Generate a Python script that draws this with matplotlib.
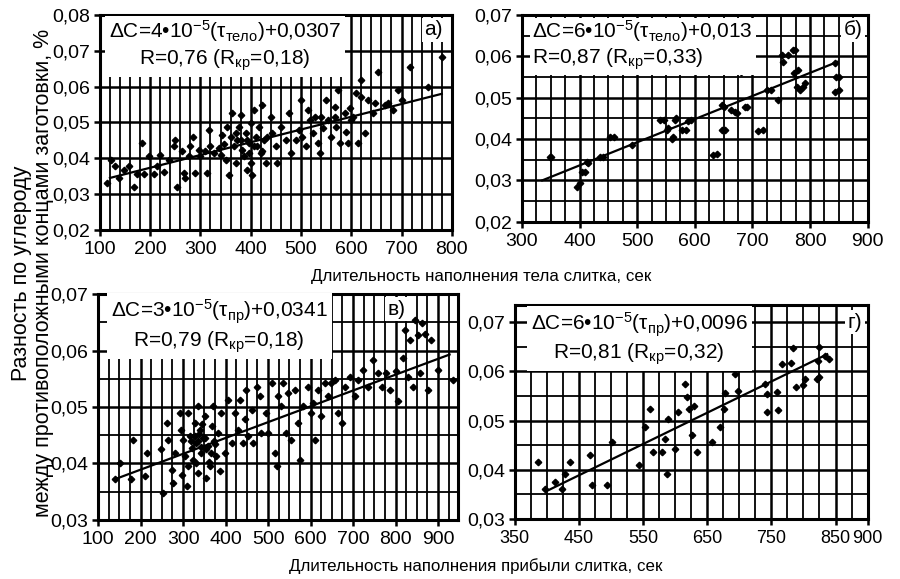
import numpy as np
import matplotlib
matplotlib.use("Agg")
import matplotlib.pyplot as plt
from matplotlib.ticker import FuncFormatter, MultipleLocator

plt.rcParams['font.family'] = ['Liberation Sans', 'DejaVu Sans']
plt.rcParams['mathtext.fontset'] = 'custom'
plt.rcParams['mathtext.rm'] = 'Liberation Sans'
plt.rcParams['mathtext.it'] = 'Liberation Sans:italic'
plt.rcParams['mathtext.bf'] = 'Liberation Sans:bold'

# --- panel а) : body filling time vs carbon difference
a_x = [115, 123, 130, 137, 147, 157, 167, 173, 183, 187, 197, 207, 213, 219, 227, 237, 247, 250,
       253, 263, 267, 270, 277, 280, 285, 290, 297, 300, 310, 313, 317, 320, 327, 337, 340, 343,
       353, 357, 360, 363, 367, 370, 373, 377, 380, 383, 387, 390, 393, 397, 400, 401, 403, 407,
       410, 413, 417, 420, 423, 427, 430, 440, 443, 450, 453, 460, 470, 477, 480, 490, 497, 500,
       503, 510, 513, 517, 523, 527, 533, 537, 543, 550, 553, 560, 567, 570, 573, 577, 587, 590,
       593, 597, 603, 610, 613, 620, 627, 633, 643, 653, 673, 683, 693, 700, 717, 753, 780,
       567, 600, 540, 620, 647, 667, 407, 433, 397, 380, 370, 350, 393, 347, 423]
a_y = [0.0330, 0.0395, 0.0377, 0.0344, 0.0367, 0.0377, 0.0321, 0.0356, 0.0442, 0.0356, 0.0405,
       0.0356, 0.0377, 0.0409, 0.0363, 0.0395, 0.0433, 0.0451, 0.0321, 0.0419, 0.0358, 0.0344,
       0.0405, 0.0433, 0.0460, 0.0358, 0.0423, 0.0405, 0.0419, 0.0358, 0.0479, 0.0433, 0.0414,
       0.0428, 0.0409, 0.0465, 0.0488, 0.0353, 0.0460, 0.0526, 0.0433, 0.0386, 0.0451, 0.0488,
       0.0521, 0.0423, 0.0405, 0.0470, 0.0367, 0.0442, 0.0386, 0.0498, 0.0353, 0.0535, 0.0460,
       0.0433, 0.0488, 0.0414, 0.0549, 0.0451, 0.0386, 0.0516, 0.0470, 0.0433, 0.0386, 0.0488,
       0.0451, 0.0526, 0.0414, 0.0451, 0.0479, 0.0563, 0.0460, 0.0433, 0.0535, 0.0507, 0.0470,
       0.0516, 0.0442, 0.0414, 0.0484, 0.0563, 0.0507, 0.0460, 0.0544, 0.0488, 0.0591, 0.0442,
       0.0526, 0.0474, 0.0442, 0.0540, 0.0516, 0.0581, 0.0442, 0.0619, 0.0470, 0.0563, 0.0526,
       0.0642, 0.0553, 0.0535, 0.0591, 0.0563, 0.0656, 0.0600, 0.0684,
       0.0516, 0.0507, 0.0516, 0.0572, 0.0553, 0.0549, 0.0433, 0.0460, 0.0414, 0.0451, 0.0470,
       0.0395, 0.0450, 0.0440, 0.0420]
a_fit_x = [120, 780]
a_fit_y = [0.0345, 0.0580]

# --- panel б)
b_x = [349, 350, 395, 400, 404, 409, 413, 415, 435, 441, 453, 459, 491, 539, 547, 551, 553, 560,
       562, 565, 568, 577, 585, 588, 594, 631, 638, 647, 647, 650, 653, 662, 669, 674, 681, 685,
       687, 691, 709, 718, 725, 732, 744, 751, 753, 762, 770, 773, 774, 778, 779, 782, 788, 791,
       843, 844, 846, 850, 850]
b_y = [0.0357, 0.0357, 0.0285, 0.0293, 0.0321, 0.0321, 0.0345, 0.0341, 0.0357, 0.0357, 0.0405,
       0.0406, 0.0385, 0.0446, 0.0446, 0.0422, 0.0426, 0.0400, 0.0406, 0.0446, 0.0450, 0.0422,
       0.0422, 0.0444, 0.0446, 0.0362, 0.0365, 0.0483, 0.0422, 0.0478, 0.0422, 0.0470, 0.0466,
       0.0462, 0.0562, 0.0571, 0.0478, 0.0478, 0.0420, 0.0422, 0.0519, 0.0519, 0.0494, 0.0603,
       0.0587, 0.0603, 0.0615, 0.0560, 0.0615, 0.0525, 0.0567, 0.0519, 0.0527, 0.0535, 0.0514,
       0.0583, 0.0550, 0.0551, 0.0519]
b_fit_x = [335, 848]
b_fit_y = [0.0300, 0.0587]

# --- panel в) : riser filling time
c_x = [139, 151, 178, 182, 210, 214, 249, 253, 261, 265, 273, 276, 280, 292, 296, 300, 304, 308,
       312, 316, 320, 323, 327, 331, 335, 335, 339, 343, 347, 351, 355, 359, 363, 367, 370, 374,
       378, 382, 386, 390, 398, 406, 414, 421, 429, 433, 441, 445, 449, 453, 461, 465, 473, 480,
       484, 496, 500, 508, 516, 520, 524, 531, 535, 543, 547, 555, 563, 571, 575, 582, 594, 602,
       606, 610, 618, 625, 633, 641, 649, 657, 665, 673, 680, 692, 704, 712, 724, 735, 747, 759,
       767, 778, 786, 802, 806, 818, 822, 829, 833, 841, 845, 853, 857, 861, 869, 876, 884, 900,
       935, 327, 335, 343, 351, 318, 337, 353, 365, 330, 312, 298, 360, 372, 345]
c_y = [0.0372, 0.0401, 0.0372, 0.0442, 0.0378, 0.0419, 0.0425, 0.0348, 0.0472, 0.0442, 0.0389,
       0.0366, 0.0419, 0.0489, 0.0460, 0.0442, 0.0413, 0.0360, 0.0489, 0.0448, 0.0428, 0.0407,
       0.0472, 0.0436, 0.0501, 0.0384, 0.0460, 0.0419, 0.0445, 0.0484, 0.0375, 0.0431, 0.0395,
       0.0466, 0.0501, 0.0434, 0.0413, 0.0454, 0.0386, 0.0489, 0.0419, 0.0513, 0.0436, 0.0489,
       0.0460, 0.0513, 0.0436, 0.0478, 0.0531, 0.0448, 0.0495, 0.0436, 0.0536, 0.0519, 0.0454,
       0.0489, 0.0454, 0.0542, 0.0419, 0.0395, 0.0519, 0.0501, 0.0542, 0.0454, 0.0525, 0.0442,
       0.0531, 0.0472, 0.0407, 0.0501, 0.0536, 0.0489, 0.0507, 0.0442, 0.0531, 0.0484, 0.0542,
       0.0519, 0.0542, 0.0548, 0.0489, 0.0472, 0.0536, 0.0554, 0.0519, 0.0548, 0.0566, 0.0536,
       0.0584, 0.0560, 0.0536, 0.0560, 0.0531, 0.0563, 0.0510, 0.0586, 0.0636, 0.0554, 0.0619,
       0.0536, 0.0654, 0.0628, 0.0560, 0.0648, 0.0630, 0.0531, 0.0619, 0.0566, 0.0548,
       0.0448, 0.0440, 0.0430, 0.0446, 0.0440, 0.0452, 0.0425, 0.0418, 0.0400, 0.0395, 0.0380,
       0.0402, 0.0440, 0.0470]
c_fit_x = [139, 927]
c_fit_y = [0.0372, 0.0593]

# --- panel г)
d_x = [386, 397, 412, 423, 428, 436, 467, 470, 493, 501, 543, 553, 561, 566, 579, 584, 587, 589,
       600, 605, 616, 619, 621, 626, 629, 634, 657, 670, 676, 678, 694, 698, 740, 743, 743, 758,
       760, 767, 781, 783, 788, 799, 803, 821, 823, 825, 825, 834, 840]
d_y = [0.0416, 0.0361, 0.0375, 0.0361, 0.0392, 0.0416, 0.0429, 0.0368, 0.0368, 0.0456, 0.0409,
       0.0486, 0.0524, 0.0436, 0.0436, 0.0463, 0.0392, 0.0503, 0.0443, 0.0517, 0.0574, 0.0547,
       0.0524, 0.0470, 0.0530, 0.0436, 0.0456, 0.0486, 0.0524, 0.0557, 0.0595, 0.0561, 0.0574,
       0.0517, 0.0554, 0.0558, 0.0521, 0.0615, 0.0617, 0.0647, 0.0568, 0.0572, 0.0584, 0.0584,
       0.0622, 0.0649, 0.0588, 0.0632, 0.0625]
d_fit_x = [402, 837]
d_fit_y = [0.0358, 0.0635]

fig = plt.figure(figsize=(9, 5.79), dpi=100)

def comma(v, p):
    return f'{v:.2f}'.replace('.', ',')

def setup(ax, xlim, ylim, xticks, yticks, xminor, yminor):
    ax.set_xlim(*xlim)
    ax.set_ylim(*ylim)
    ax.set_xticks(xticks)
    ax.set_yticks(yticks)
    ax.yaxis.set_major_formatter(FuncFormatter(comma))
    ax.xaxis.set_minor_locator(MultipleLocator(xminor))
    if yminor:
        ax.yaxis.set_minor_locator(MultipleLocator(yminor))
    ax.grid(True, which='major', axis='both', color='black', lw=1.8, zorder=1)
    ax.grid(True, which='minor', axis='x', color='black', lw=1.3, zorder=1)
    if yminor:
        ax.grid(True, which='minor', axis='y', color='black', lw=1.3, zorder=1)
    for s in ax.spines.values():
        s.set_linewidth(2.2)
    ax.tick_params(which='major', direction='out', length=4, width=1.8, labelsize=14, pad=3)
    ax.tick_params(axis='x', which='major', pad=4)
    ax.tick_params(which='minor', length=0)
    ax.set_axisbelow(True)

box = dict(facecolor='white', edgecolor='none', pad=2)
eq_fs = 15

def draw(ax, x, y, fx, fy):
    ax.plot(x, y, 'D', color='black', ms=3.3, zorder=3)
    ax.plot(fx, fy, '-', color='black', lw=1.6, zorder=3)

# а)
ax1 = fig.add_axes([0.111, 0.603, 0.391, 0.371])
setup(ax1, (100, 800), (0.02, 0.08), range(100, 801, 100), np.arange(0.02, 0.081, 0.01), 20, None)
draw(ax1, a_x, a_y, a_fit_x, a_fit_y)
ax1.text(0.025, 0.985, r'$\Delta$C=4•10$^{-5}$($\mathrm{τ}_{\mathrm{тело}}$)+0,0307' + '\nR=0,76 (R$_{\mathrm{кр}}$=0,18)',
         transform=ax1.transAxes, ha='left', va='top', ma='center', fontsize=eq_fs, linespacing=1.2,
         bbox=dict(facecolor='white', edgecolor='none', pad=3), zorder=4)
ax1.text(0.975, 0.975, 'а)', transform=ax1.transAxes, ha='right', va='top', fontsize=eq_fs, bbox=box, zorder=4)

# б)
ax2 = fig.add_axes([0.580, 0.617, 0.384, 0.357])
setup(ax2, (300, 900), (0.02, 0.07), range(300, 901, 100), np.arange(0.02, 0.071, 0.01), 25, 0.005)
draw(ax2, b_x, b_y, b_fit_x, b_fit_y)
ax2.text(0.03, 0.985, r'$\Delta$C=6•10$^{-5}$($\mathrm{τ}_{\mathrm{тело}}$)+0,013' + '\nR=0,87 (R$_{\mathrm{кр}}$=0,33)',
         transform=ax2.transAxes, ha='left', va='top', ma='left', fontsize=eq_fs, linespacing=1.15,
         bbox=dict(facecolor='white', edgecolor='none', pad=2), zorder=4)
ax2.text(0.985, 0.975, 'б)', transform=ax2.transAxes, ha='right', va='top', fontsize=eq_fs, bbox=box, zorder=4)

# в)
ax3 = fig.add_axes([0.109, 0.102, 0.400, 0.390])
setup(ax3, (100, 947), (0.03, 0.07), range(100, 901, 100), np.arange(0.03, 0.071, 0.01), 25, 0.005)
draw(ax3, c_x, c_y, c_fit_x, c_fit_y)
ax3.text(0.035, 0.985, r'$\Delta$C=3•10$^{-5}$($\mathrm{τ}_{\mathrm{пр}}$)+0,0341' + '\nR=0,79 (R$_{\mathrm{кр}}$=0,18)',
         transform=ax3.transAxes, ha='left', va='top', ma='center', fontsize=eq_fs, linespacing=1.2,
         bbox=dict(facecolor='white', edgecolor='none', pad=3), zorder=4)
ax3.text(0.855, 0.975, 'в)', transform=ax3.transAxes, ha='right', va='top', fontsize=eq_fs, bbox=box, zorder=4)

# г)
ax4 = fig.add_axes([0.572, 0.104, 0.392, 0.369])
setup(ax4, (350, 900), (0.03, 0.0735), [350, 450, 550, 650, 750, 850, 900],
      np.arange(0.03, 0.071, 0.01), 25, 0.005)
ax4.tick_params(axis='x', labelsize=13)
draw(ax4, d_x, d_y, d_fit_x, d_fit_y)
ax4.text(0.045, 0.975, r'$\Delta$C=6•10$^{-5}$($\mathrm{τ}_{\mathrm{пр}}$)+0,0096' + '\nR=0,81 (R$_{\mathrm{кр}}$=0,32)',
         transform=ax4.transAxes, ha='left', va='top', ma='center', fontsize=eq_fs, linespacing=1.15,
         bbox=dict(facecolor='white', edgecolor='none', pad=3), zorder=4)
ax4.text(0.985, 0.965, 'г)', transform=ax4.transAxes, ha='right', va='top', fontsize=eq_fs, bbox=box, zorder=4)

fig.text(0.535, 0.522, 'Длительность наполнения тела слитка, сек', ha='center', va='center', fontsize=12.2)
fig.text(0.529, 0.022, 'Длительность наполнения прибыли слитка, сек', ha='center', va='center', fontsize=12.2)
fig.text(0.036, 0.528, 'Разность по углероду\nмежду противоположными концами заготовки, %',
         rotation=90, ha='center', va='center', ma='center', fontsize=15.5, linespacing=1.05)

fig.savefig('out.png', dpi=100, facecolor='white')
